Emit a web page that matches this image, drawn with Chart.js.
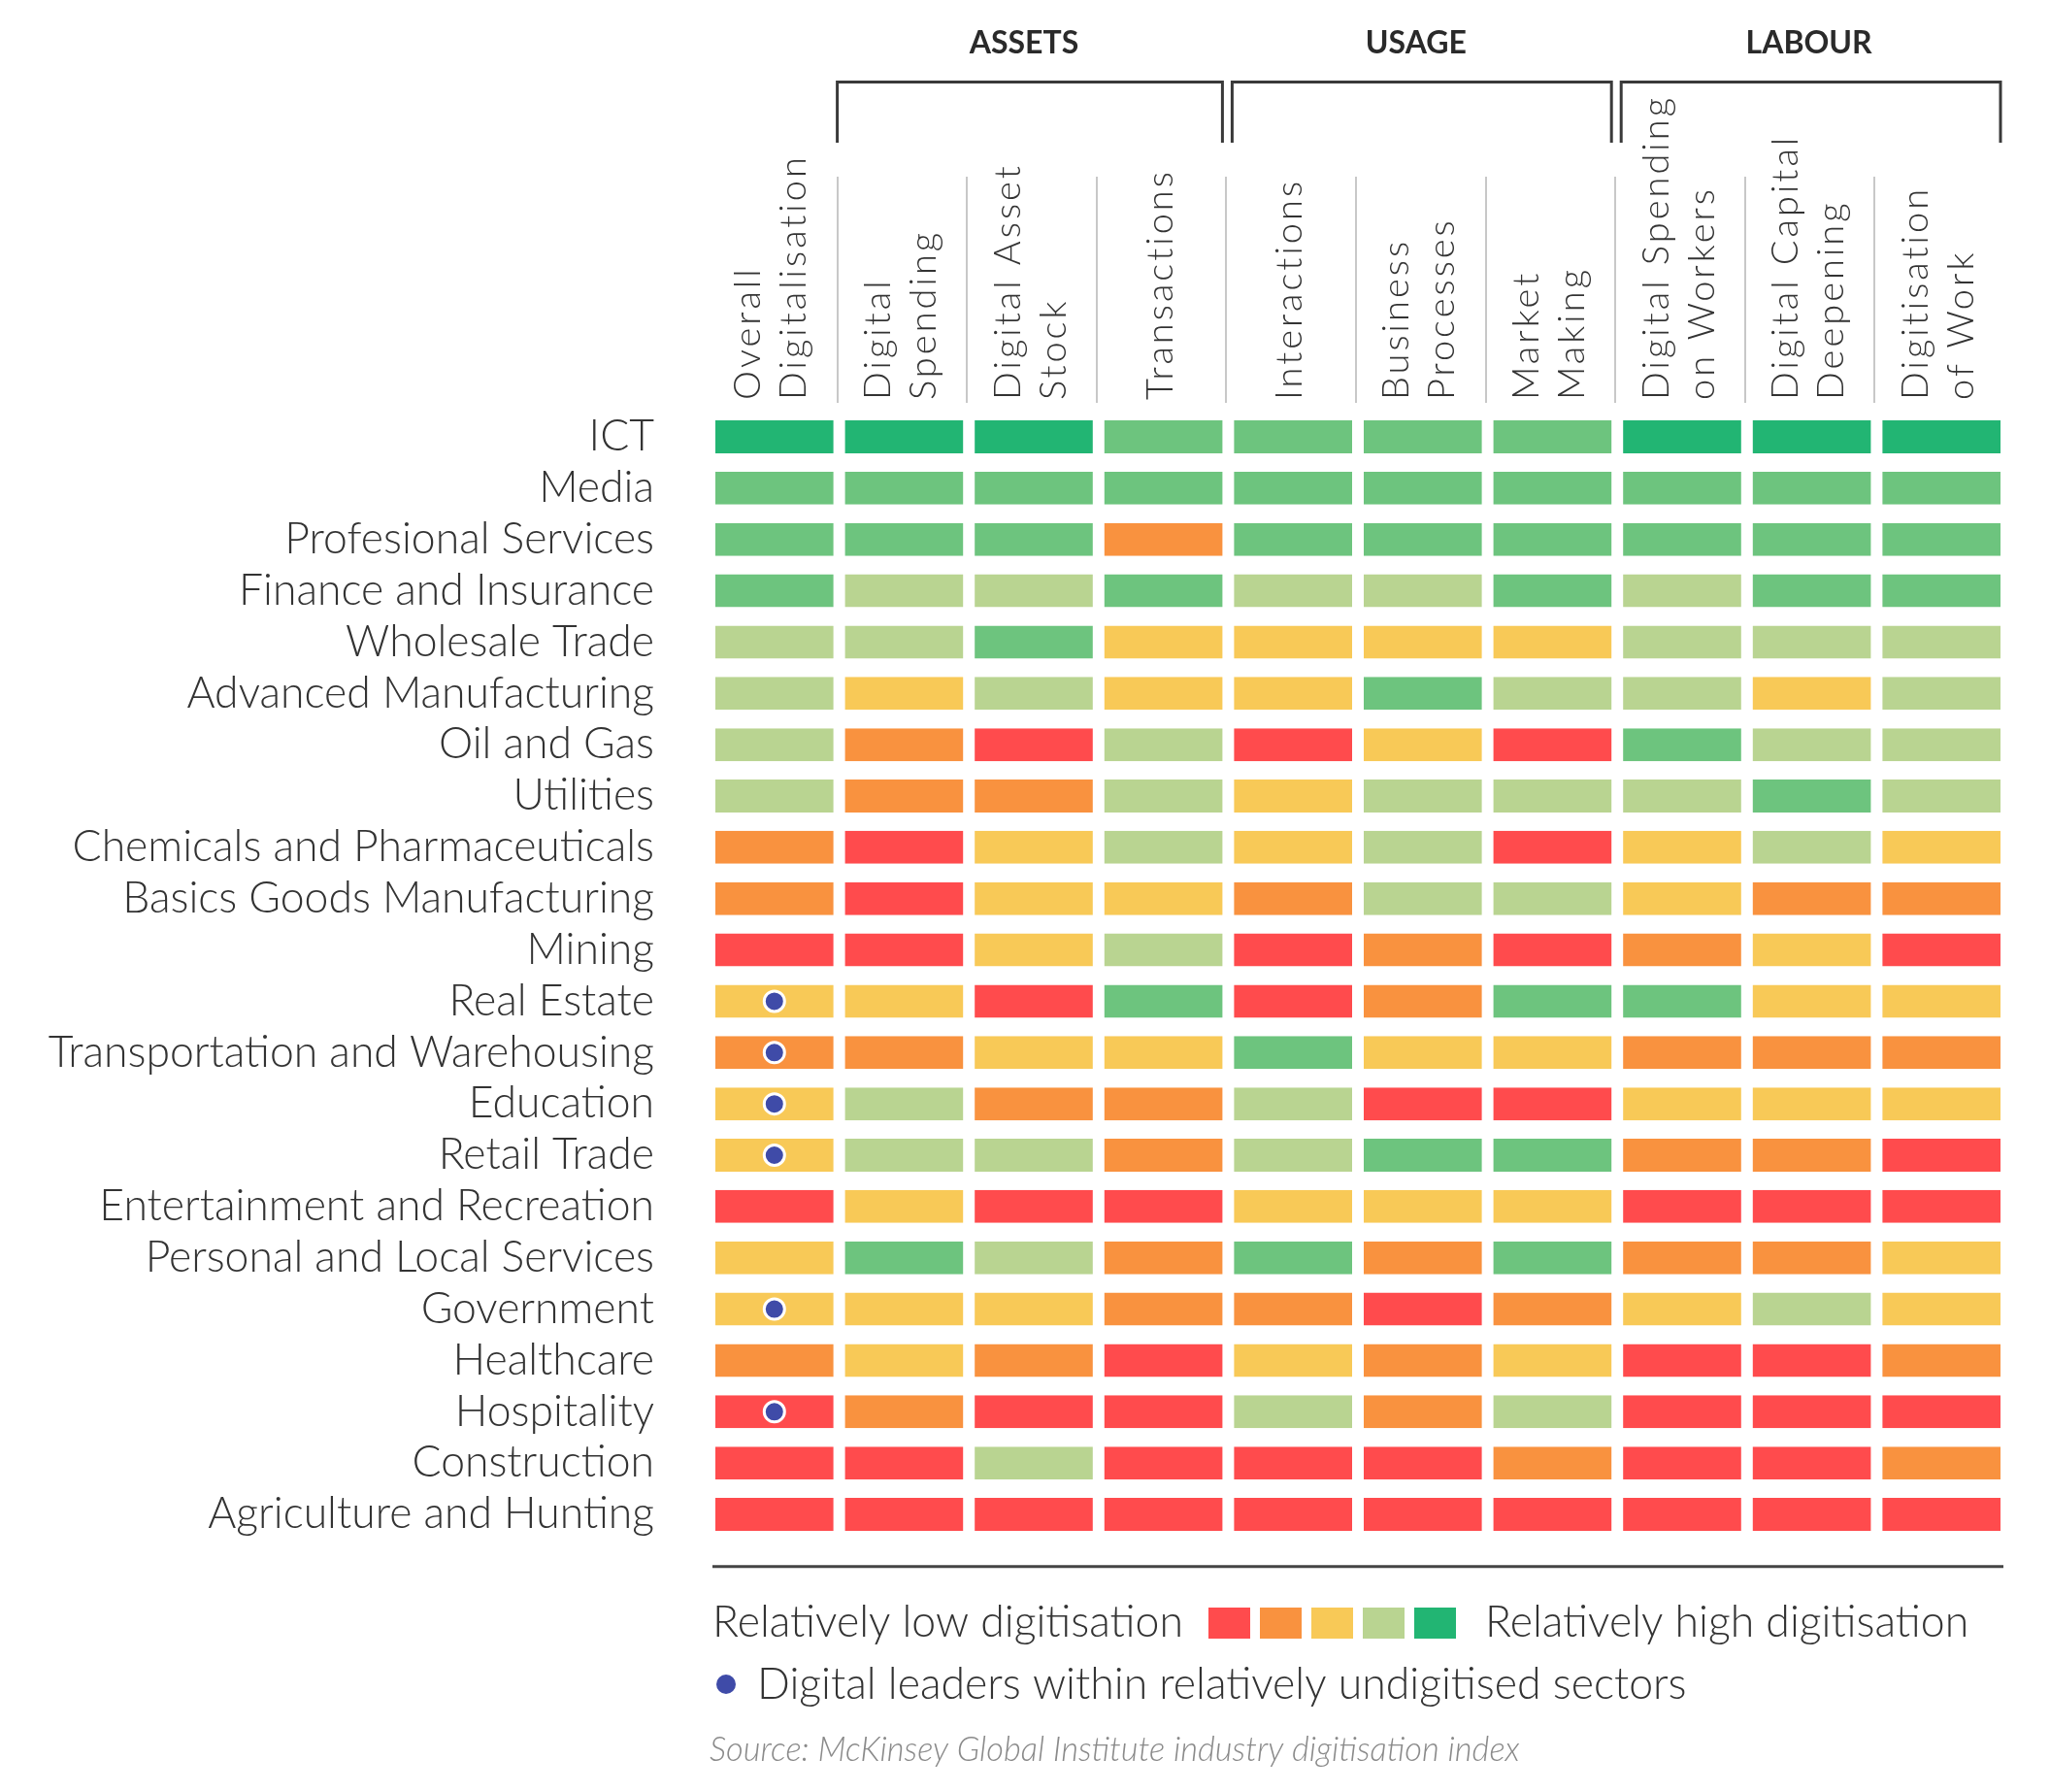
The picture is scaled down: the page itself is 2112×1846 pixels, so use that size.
<!DOCTYPE html>
<html>
<head>
<meta charset="utf-8">
<script src="https://cdn.jsdelivr.net/npm/chart.js@4.4.1/dist/chart.umd.min.js"></script>
<style>
html,body{margin:0;padding:0;background:#fff;}
canvas{display:block;}
</style>
</head>
<body>
<canvas id="c" width="2112" height="1846"></canvas>
<script>
// ---------- DATA ----------
const industries = [
  'ICT','Media','Profesional Services','Finance and Insurance','Wholesale Trade',
  'Advanced Manufacturing','Oil and Gas','Utilities','Chemicals and Pharmaceuticals',
  'Basics Goods Manufacturing','Mining','Real Estate','Transportation and Warehousing',
  'Education','Retail Trade','Entertainment and Recreation','Personal and Local Services',
  'Government','Healthcare','Hospitality','Construction','Agriculture and Hunting'
];

const columnLabels = [
  ['Overall','Digitalisation'],
  ['Digital','Spending'],
  ['Digital Asset','Stock'],
  ['Transactions'],
  ['Interactions'],
  ['Business','Processes'],
  ['Market','Making'],
  ['Digital Spending','on Workers'],
  ['Digital Capital','Deepening'],
  ['Digitisation','of Work']
];

const groupNames = ['ASSETS','USAGE','LABOUR'];
const groupFirstColumn = [1, 4, 7];
const groupColumnCount = [3, 3, 3];

// digitisation level per industry (1 = relatively low ... 6 = relatively high)
const overall            = [6,5,5,5,4,4,4,4,2,2,1,3,2,3,3,1,3,3,2,1,1,1];
const digitalSpending    = [6,5,5,4,4,3,2,2,1,1,1,3,2,4,4,3,5,3,3,2,1,1];
const digitalAssetStock  = [6,5,5,4,5,4,1,2,3,3,3,1,3,2,4,1,4,3,2,1,4,1];
const transactions       = [5,5,2,5,3,3,4,4,4,3,4,5,3,2,2,1,2,2,1,1,1,1];
const interactions       = [5,5,5,4,3,3,1,3,3,2,1,1,5,4,4,3,5,2,3,4,1,1];
const businessProcesses  = [5,5,5,4,3,5,3,4,4,4,2,2,3,1,5,3,2,1,2,2,1,1];
const marketMaking       = [5,5,5,5,3,4,1,4,1,4,1,5,3,1,5,3,5,2,3,4,2,1];
const spendingOnWorkers  = [6,5,5,4,4,4,5,4,3,3,2,5,2,3,2,1,2,3,1,1,1,1];
const capitalDeepening   = [6,5,5,5,4,3,4,5,4,2,3,3,2,3,2,1,2,4,1,1,1,1];
const digitisationOfWork = [6,5,5,5,4,4,4,4,3,2,1,3,2,3,1,1,3,3,2,1,2,1];

const seriesLevels = [overall, digitalSpending, digitalAssetStock, transactions, interactions,
  businessProcesses, marketMaking, spendingOnWorkers, capitalDeepening, digitisationOfWork];

const digitalLeaders = ['Real Estate','Transportation and Warehousing','Education','Retail Trade','Government','Hospitality'];

const legendLowText = 'Relatively low digitisation';
const legendHighText = 'Relatively high digitisation';
const legendLevels = [1, 2, 3, 4, 6];
const legendDotText = 'Digital leaders within relatively undigitised sectors';
const sourceText = 'Source: McKinsey Global Institute industry digitisation index';

// ---------- STYLE ----------
const levelColors = ['#FF4B4D','#F9923F','#F8C957','#B9D491','#6DC47E','#22B573'];
const dotColor = '#3F4BA8';
const textColor = '#333333';

// ---------- DATASETS ----------
const datasets = seriesLevels.map((lv, j) => ({
  type: 'bar',
  label: columnLabels[j].join(' '),
  data: lv.map(() => 1),
  backgroundColor: lv.map(v => levelColors[v - 1]),
  borderColor: '#ffffff',
  borderWidth: {left: 6, right: 6, top: 0, bottom: 0},
  borderSkipped: false,
  inflateAmount: 0,
  barPercentage: 0.643,
  categoryPercentage: 1,
  order: 1
}));

datasets.push({
  type: 'scatter',
  label: 'Digital leaders',
  data: digitalLeaders.map(name => ({x: 0 + 0.5, y: name})),
  pointRadius: 10.5,
  pointBackgroundColor: dotColor,
  pointBorderColor: '#ffffff',
  pointBorderWidth: 3,
  order: 0
});

// ---------- DECORATION PLUGIN ----------
const decor = {
  id: 'decor',
  afterDraw(chart) {
    const ctx = chart.ctx;
    const xs = chart.scales.x, ys = chart.scales.y;
    const px = v => xs.getPixelForValue(v);
    ctx.save();

    // column separators
    ctx.strokeStyle = '#c8c8c8';
    ctx.lineWidth = 2;
    for (let j = 1; j < columnLabels.length; j++) {
      const x = Math.round(px(j)) - 2;
      ctx.beginPath(); ctx.moveTo(x, 182); ctx.lineTo(x, 415); ctx.stroke();
    }

    // rotated column headers
    ctx.fillStyle = textColor;
    ctx.font = '300 38px Lato';
    ctx.letterSpacing = '3px';
    ctx.textAlign = 'left';
    ctx.textBaseline = 'alphabetic';
    columnLabels.forEach((lines, j) => {
      const cx = px(j + 0.5);
      lines.forEach((t, k) => {
        const bx = cx + 9 + (k - (lines.length - 1) / 2) * 47;
        ctx.save();
        ctx.translate(bx, 412);
        ctx.rotate(-Math.PI / 2);
        ctx.fillText(t, 0, 0);
        ctx.restore();
      });
    });
    ctx.letterSpacing = '0px';

    // group brackets and titles
    ctx.strokeStyle = '#3a3a3a';
    ctx.lineWidth = 3;
    groupNames.forEach((name, i) => {
      const l = px(groupFirstColumn[i]) + (i === 0 ? -2 : 4);
      const r = px(groupFirstColumn[i] + groupColumnCount[i]) - 6;
      ctx.beginPath();
      ctx.moveTo(l, 147); ctx.lineTo(l, 84.5); ctx.lineTo(r, 84.5); ctx.lineTo(r, 147);
      ctx.stroke();
      ctx.fillStyle = '#2a2a2a';
      ctx.font = '700 32px Lato';
      ctx.textAlign = 'center';
      ctx.fillText(name, (l + r) / 2 - 6 + (i === 2 ? 4 : 0), 55);
    });

    // bottom rule
    const rowH = (ys.bottom - ys.top) / industries.length;
    const yb = ys.bottom + rowH / 2 + 1;
    ctx.strokeStyle = '#444444';
    ctx.lineWidth = 3;
    ctx.beginPath(); ctx.moveTo(px(0) + 3, yb); ctx.lineTo(px(columnLabels.length) - 3, yb); ctx.stroke();

    // legend row 1
    const lx = px(0) + 3;
    ctx.font = '300 44.6px Lato';
    ctx.fillStyle = textColor;
    ctx.textAlign = 'left';
    ctx.fillText(legendLowText, lx, 1686);
    let sx = lx + ctx.measureText(legendLowText).width + 26;
    legendLevels.forEach(v => {
      ctx.fillStyle = levelColors[v - 1];
      ctx.fillRect(sx, 1656, 43, 32);
      sx += 53;
    });
    ctx.fillStyle = textColor;
    ctx.fillText(legendHighText, sx + 20, 1686);

    // legend row 2
    ctx.fillStyle = dotColor;
    ctx.beginPath(); ctx.arc(lx + 14, 1735, 10, 0, Math.PI * 2); ctx.fill();
    ctx.fillStyle = textColor;
    ctx.fillText(legendDotText, lx + 46, 1750);

    // source
    ctx.font = 'italic 300 34.5px Lato';
    ctx.fillStyle = '#8a8a8a';
    ctx.fillText(sourceText, lx - 3, 1814);

    ctx.restore();
  }
};

function draw() {
  new Chart(document.getElementById('c'), {
    type: 'bar',
    data: {labels: industries, datasets},
    plugins: [decor],
    options: {
      responsive: false,
      animation: false,
      devicePixelRatio: 1,
      indexAxis: 'y',
      layout: {padding: {top: 423.6, bottom: 259.6, left: 0, right: 45}},
      plugins: {legend: {display: false}, tooltip: {enabled: false}},
      scales: {
        x: {type: 'linear', stacked: true, min: 0, max: 10, display: false},
        y: {
          type: 'category', stacked: true, offset: true,
          grid: {display: false, drawTicks: false},
          border: {display: false},
          ticks: {color: textColor, font: {family: 'Lato', weight: '300', size: 44.5}, padding: 57, autoSkip: false},
          afterFit: s => { s.width = 731; }
        }
      }
    }
  });
}

Promise.all([
  document.fonts.load('300 44px Lato'),
  document.fonts.load('700 32px Lato'),
  document.fonts.load('italic 300 31px Lato')
]).then(draw, draw);
</script>
</body>
</html>
